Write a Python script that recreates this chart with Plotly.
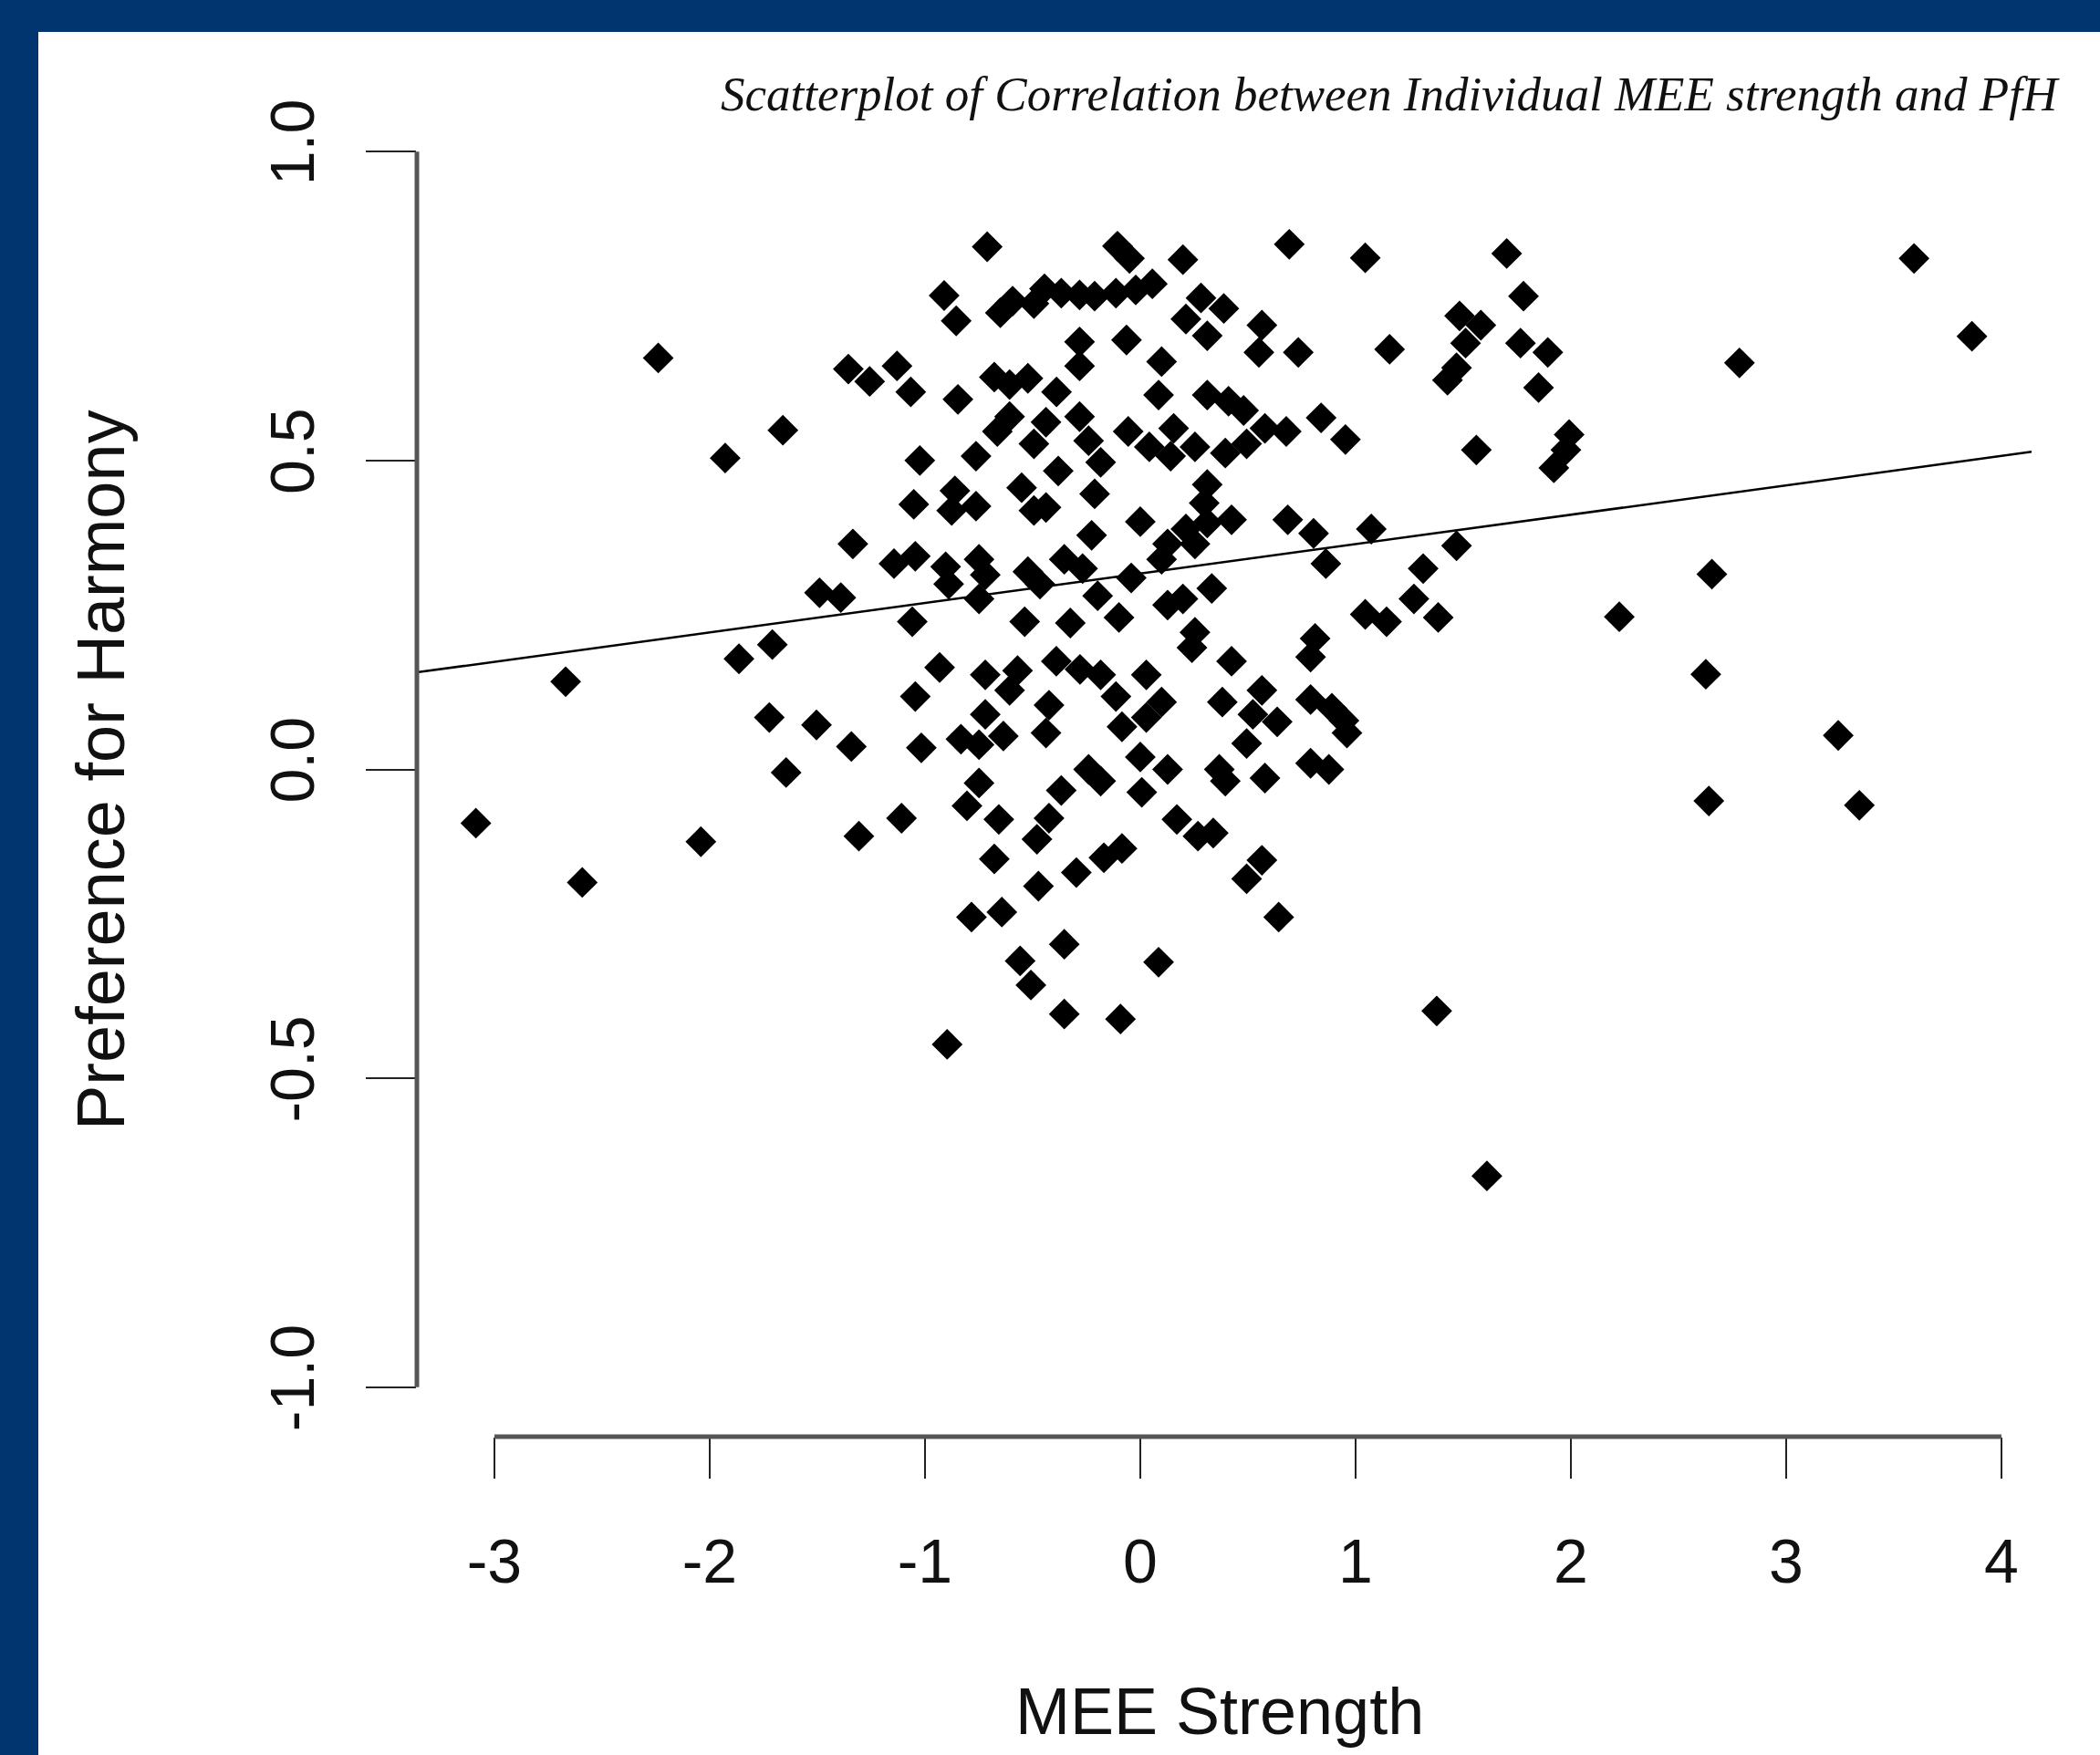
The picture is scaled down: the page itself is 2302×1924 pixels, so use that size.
import plotly.graph_objects as go

# ---------------- data ----------------
mee_strength = [
    -0.711, -0.106, -0.050, 0.198, -0.911, -0.855, -0.650, -0.593, -0.494, -0.445,
    -0.367, -0.282, -0.212, -0.113, -0.021, 0.056, -0.282, -0.282, -0.064, 0.099,
    -1.356, -1.257, -1.130, -1.066, -0.847, -0.678, -0.607, -0.522, -0.389, 0.085,
    -1.660, -0.607, -0.664, -0.494, -0.438, -0.282, -0.240, -0.184, -0.056, 0.042,
    0.141, 0.155, -1.024, -0.763, -0.381, -0.551, -0.861, -0.763, -0.876, -1.052,
    -0.494, -0.438, -0.212, 0.000, -0.226, -1.335, -1.144, -1.045, -0.904, -0.890,
    -0.749, -0.720, -0.749, -0.522, -0.466, -0.353, -0.268, -0.042, 0.127, 0.099,
    -1.490, -1.391, -1.059, -0.537, -0.198, -0.325, -0.099, 0.127, -1.709,
    -0.932, -1.045, -0.720, -0.570, -0.720, -0.833, -0.749, -0.636, -0.424, -0.438,
    -0.390, -0.280, -0.113, -0.085, 0.028, 0.099, -0.184, 0.028, -1.723, -1.504,
    -1.342, -1.017, -1.645, -0.749, -0.805, -0.657, -1.109, -1.307, -0.678, -0.424,
    -0.480, -0.367, -0.240, -0.184, 0.000, 0.127, 0.007, 0.170, -0.473, -0.297,
    -0.169, -0.085, -0.784, -0.643, -0.353, -0.558, -0.508, 0.085, -0.353, -0.092,
    -0.897, -0.607,
    0.692, 1.045, 1.702, 1.780, 0.282, 0.388, 0.212, 0.311, 0.565, 0.551,
    0.734, 1.158, 1.483, 1.582, 1.511, 1.469, 1.427, 1.766, 1.893, 1.850,
    0.311, 0.410, 0.480, 0.840, 0.953, 1.561, 1.992, 1.977, 1.921, 0.254,
    0.395, 0.494, 0.579, 0.678, 0.311, 0.297, 0.212, 0.311, 0.424, 0.254,
    0.685, 0.805, 1.073, 0.862, 1.469, 1.314, 1.271, 1.384, 1.045, 1.144,
    0.332, 0.198, 0.254, 0.240, 0.424, 0.812, 0.791,
    0.381, 0.565, 0.523, 0.636, 0.494, 0.791, 0.890, 0.946, 0.960, 0.367,
    0.395, 0.579, 0.791, 0.876, 0.268, 0.339, 0.565, 0.494, 0.643, 1.377,
    1.610,
    -2.239, -1.928, -1.864, -2.669, -3.086, -2.041, -2.592,
    3.594, 3.863, 2.783, 2.655, 2.225, 2.627, 3.242, 2.641, 3.340,
]
preference_harmony = [
    0.846, 0.847, 0.827, 0.825, 0.767, 0.726, 0.739, 0.758, 0.754, 0.778,
    0.771, 0.768, 0.766, 0.771, 0.776, 0.786, 0.692, 0.653, 0.695, 0.660,
    0.648, 0.628, 0.653, 0.611, 0.599, 0.635, 0.623, 0.633, 0.611, 0.606,
    0.549, 0.571, 0.547, 0.527, 0.562, 0.571, 0.532, 0.497, 0.547, 0.522,
    0.507, 0.552, 0.500, 0.507, 0.483, 0.456, 0.451, 0.426, 0.419, 0.429,
    0.419, 0.424, 0.446, 0.401, 0.379, 0.365, 0.333, 0.345, 0.328, 0.300,
    0.340, 0.315, 0.276, 0.320, 0.300, 0.340, 0.325, 0.310, 0.365, 0.340,
    0.286, 0.278, 0.239, 0.239, 0.281, 0.237, 0.246, 0.266, 0.202,
    0.165, 0.118, 0.153, 0.160, 0.089, 0.049, 0.040, 0.054, 0.104, 0.059,
    0.175, 0.162, 0.118, 0.069, 0.084, 0.109, 0.153, 0.153, 0.084, 0.072,
    0.037, 0.035, -0.005, -0.022, -0.059, -0.081, -0.079, -0.108, -0.145, -0.079,
    -0.113, -0.034, 0.000, -0.019, 0.020, 0.000, -0.037, -0.081, -0.189, -0.167,
    -0.143, -0.128, -0.239, -0.231, -0.283, -0.310, -0.349, -0.312, -0.396, -0.404,
    -0.445, 0.128,
    0.850, 0.828, 0.835, 0.766, 0.763, 0.746, 0.729, 0.702, 0.719, 0.675,
    0.675, 0.680, 0.734, 0.719, 0.690, 0.650, 0.630, 0.690, 0.675, 0.618,
    0.606, 0.596, 0.581, 0.569, 0.534, 0.517, 0.542, 0.517, 0.488, 0.522,
    0.512, 0.527, 0.552, 0.547, 0.461, 0.431, 0.389, 0.399, 0.404, 0.365,
    0.404, 0.382, 0.389, 0.333, 0.362, 0.325, 0.276, 0.246, 0.251, 0.239,
    0.293, 0.276, 0.222, 0.197, 0.175, 0.212, 0.182,
    0.109, 0.128, 0.089, 0.077, 0.042, 0.113, 0.099, 0.079, 0.059, 0.000,
    -0.019, -0.014, 0.010, 0.000, -0.108, -0.103, -0.147, -0.177, -0.239, -0.391,
    -0.658,
    0.666, 0.504, 0.179, 0.142, -0.087, -0.117, -0.183,
    0.827, 0.701, 0.658, 0.316, 0.247, 0.154, 0.055, -0.051, -0.058,
]

# regression line
fit_intercept = 0.317
fit_slope = 0.0476

x_ticks = [-3, -2, -1, 0, 1, 2, 3, 4]
x_tick_labels = ["-3", "-2", "-1", "0", "1", "2", "3", "4"]
y_ticks = [-1.0, -0.5, 0.0, 0.5, 1.0]
y_tick_labels = ["-1.0", "-0.5", "0.0", "0.5", "1.0"]

title_text = "Scatterplot of Correlation between Individual MEE strength and PfH"
x_title = "MEE Strength"
y_title = "Preference for Harmony"

# ---------------- layout geometry ----------------
W, H = 2302, 1924
ML, MR, MT, MB = 457, 75, 112, 349
x_range = [-3.36, 4.14]
y_range = [-1.08, 1.08]
BLUE = "#00356F"
INK = "#111111"
SANS = "Liberation Sans, Arial, Helvetica, sans-serif"


def pxx(px):
    return (px - ML) / (W - ML - MR)


def pxy(py):
    return (H - MB - py) / (H - MT - MB)


fig = go.Figure()

fig.add_trace(go.Scatter(
    x=mee_strength, y=preference_harmony, mode="markers",
    marker=dict(symbol="diamond", size=26, color="black", line=dict(width=0)),
    showlegend=False, hoverinfo="x+y",
))

fit_x = list(x_range)
fit_y = [fit_intercept + fit_slope * v for v in fit_x]
fig.add_trace(go.Scatter(
    x=fit_x, y=fit_y, mode="lines",
    line=dict(color="black", width=2.5),
    showlegend=False, hoverinfo="skip",
))

fig.update_xaxes(
    range=x_range, showgrid=False, zeroline=False, showline=False,
    ticks="outside", ticklen=45, tickwidth=2, tickcolor="#222",
    tickmode="array", tickvals=x_ticks, ticktext=x_tick_labels,
    tickfont=dict(family=SANS, size=68, color=INK), ticklabelstandoff=32,
)
fig.update_yaxes(
    range=y_range, showgrid=False, zeroline=False, showline=False,
    ticks="outside", ticklen=55, tickwidth=2, tickcolor="#222",
    tickmode="array", tickvals=y_ticks, ticktext=y_tick_labels,
    tickangle=-90,
    tickfont=dict(family=SANS, size=68, color=INK), ticklabelstandoff=30,
)

shapes = [
    # R-style axis lines spanning first to last tick
    dict(type="line", xref="x", yref="paper", x0=x_ticks[0], x1=x_ticks[-1],
         y0=0, y1=0, line=dict(color="#555", width=5)),
    dict(type="line", xref="paper", yref="y", x0=0, x1=0,
         y0=y_ticks[0], y1=y_ticks[-1], line=dict(color="#555", width=5)),
    # dark blue frame (top and left bands)
    dict(type="rect", xref="paper", yref="paper", x0=pxx(0), x1=pxx(W),
         y0=pxy(35), y1=pxy(0), fillcolor=BLUE, line=dict(width=0), layer="above"),
    dict(type="rect", xref="paper", yref="paper", x0=pxx(0), x1=pxx(42),
         y0=pxy(H), y1=pxy(0), fillcolor=BLUE, line=dict(width=0), layer="above"),
]

annotations = [
    dict(text="<i>" + title_text + "</i>", xref="paper", yref="paper",
         x=pxx(788), y=pxy(103), xanchor="left", yanchor="middle", showarrow=False,
         font=dict(family="Liberation Serif, Times New Roman, serif", size=53, color=INK)),
    dict(text=x_title, xref="paper", yref="paper", x=pxx(1337), y=pxy(1876),
         xanchor="center", yanchor="middle", showarrow=False,
         font=dict(family=SANS, size=72, color=INK)),
    dict(text=y_title, xref="paper", yref="paper", x=pxx(110), y=pxy(844),
         xanchor="center", yanchor="middle", showarrow=False, textangle=-90,
         font=dict(family=SANS, size=74, color=INK)),
]

fig.update_layout(
    width=W, height=H, autosize=False,
    margin=dict(l=ML, r=MR, t=MT, b=MB, pad=0),
    paper_bgcolor="white", plot_bgcolor="white",
    shapes=shapes, annotations=annotations,
)

fig.write_html("out.html", config={"displayModeBar": False},
               post_script="document.body.style.margin='0';")
